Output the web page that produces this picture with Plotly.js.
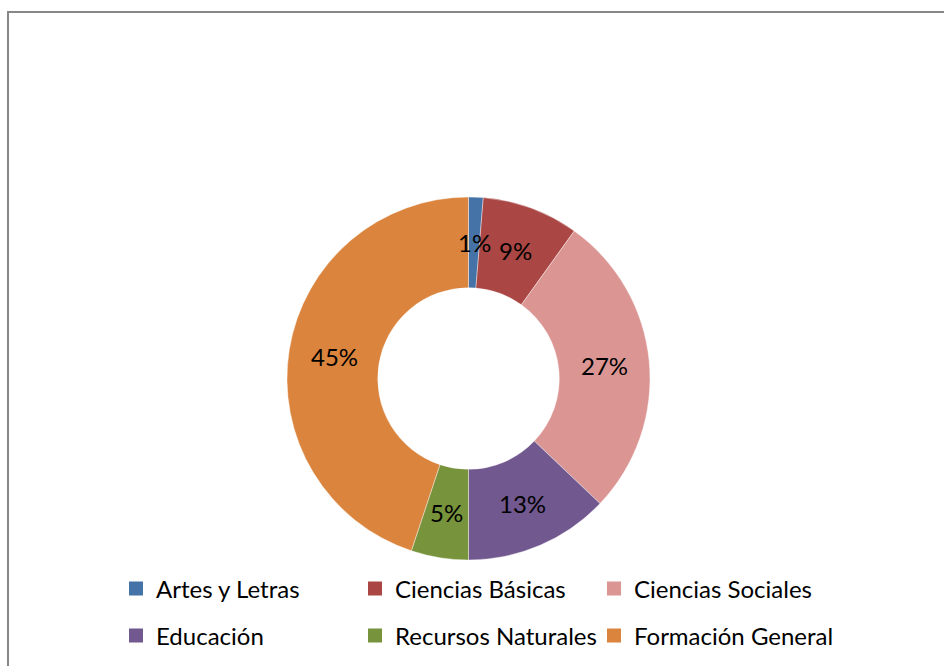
<!DOCTYPE html>
<html>
<head>
<meta charset="utf-8">
<script src="https://cdn.plot.ly/plotly-3.0.1.min.js"></script>
<style>
  html, body { margin: 0; padding: 0; background: #fff; }
  #chart { width: 944px; height: 666px; }
</style>
</head>
<body>
<div id="chart"></div>
<script>
// data
const labels = ["Artes y Letras", "Ciencias Básicas", "Ciencias Sociales", "Educación", "Recursos Naturales", "Formación General"];
const values = [1.3, 8.6, 27.2, 12.9, 5.1, 44.9];
const colors = ["#4573A7", "#AA4643", "#DB9694", "#71588F", "#77933C", "#DB843D"];

const W = 944, H = 666;
// pie geometry (pixels)
const cx = 468.5, cy = 378.5, R = 181.5, hole = 0.5;
const font = "Lato, 'Open Sans', sans-serif";

const domainX = [(cx - R) / W, (cx + R) / W];
const domainY = [(H - cy - R) / H, (H - cy + R) / H];

// percent labels in the middle of the ring
const total = values.reduce((a, b) => a + b, 0);
let cum = 0;
const annotations = values.map(v => {
    const mid = (cum + v / 2) / total;
    cum += v;
    const ang = mid * 2 * Math.PI;
    const rm = R * (1 + hole) / 2;
    return {
        xref: "paper", yref: "paper",
        x: (cx + rm * Math.sin(ang)) / W,
        y: (H - cy + rm * Math.cos(ang)) / H,
        text: Math.round(v / total * 100) + "%",
        showarrow: false,
        xanchor: "center", yanchor: "middle",
        font: { family: font, size: 24, color: "#000" }
    };
});

const pie = {
    type: "pie",
    labels: labels,
    values: values,
    sort: false,
    direction: "clockwise",
    rotation: 0,
    hole: hole,
    domain: { x: domainX, y: domainY },
    marker: { colors: colors, line: { color: "#ffffff", width: 0.4 } },
    textinfo: "none",
    showlegend: false
};

// legend entries, split over two rows
const legendTraces = labels.map((name, i) => ({
    type: "scatter",
    mode: "markers",
    x: [null], y: [null],
    name: name,
    marker: { symbol: "square", size: 14, color: colors[i] },
    legend: i < 3 ? "legend" : "legend2",
    hoverinfo: "skip"
}));

const legendBase = {
    orientation: "h",
    x: 116 / W, xanchor: "left",
    yanchor: "middle",
    entrywidth: 194, entrywidthmode: "pixels",
    font: { family: font, size: 24, color: "#000" },
    bgcolor: "rgba(0,0,0,0)",
    traceorder: "normal"
};

const layout = {
    width: W, height: H,
    margin: { l: 0, r: 0, t: 0, b: 0, autoexpand: false },
    paper_bgcolor: "#ffffff",
    plot_bgcolor: "rgba(0,0,0,0)",
    xaxis: { visible: false },
    yaxis: { visible: false },
    legend: Object.assign({}, legendBase, { y: (H - 589) / H }),
    legend2: Object.assign({}, legendBase, { y: (H - 636) / H }),
    annotations: annotations,
    shapes: [{
        type: "rect", xref: "paper", yref: "paper",
        x0: 8 / W, x1: 1.02, y0: -0.02, y1: 1 - 12 / H,
        line: { color: "#878787", width: 2 }
    }]
};

Plotly.newPlot("chart", [pie].concat(legendTraces), layout, { displayModeBar: false, staticPlot: true });
</script>
</body>
</html>
